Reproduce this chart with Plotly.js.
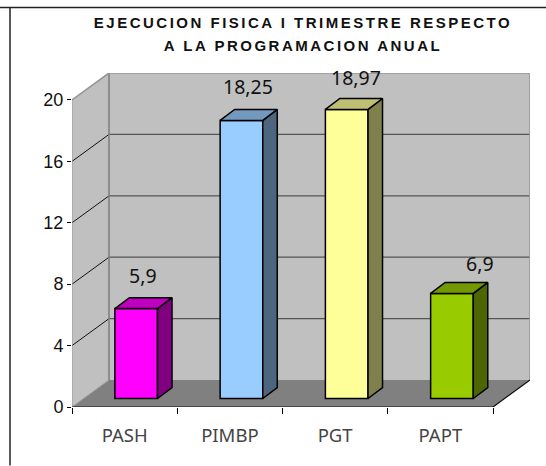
<!DOCTYPE html>
<html><head><meta charset="utf-8">
<script src="https://cdn.plot.ly/plotly-3.0.1.min.js"></script>
<style>
html,body{margin:0;padding:0;background:#fff}
.gtitle{letter-spacing:2.5px}
</style></head><body><div id="c" style="width:546px;height:466px"></div>
<script>
const categories=['PASH','PIMBP','PGT','PAPT'];
const values=[5.9,18.25,18.97,6.9];
const valueLabels=['5,9','18,25','18,97','6,9'];
const frontColors=['#FF00FF','#99CCFF','#FFFF99','#99CC00'];
const sideColors=['#800080','#4D6680','#80804D','#4D6600'];
const topColors=['#BF00BF','#7399BF','#BFBF73','#739900'];
const yTicks=[0,4,8,12,16,20];
const labelShiftX=[7,7,9,28];
const labelShiftY=[33,34,32,30];

const wallDX=37/105.25, wallDY=27/15.375;
const barDX=14.5/105.25, barDY=11/15.26, barW=0.405, barCenterShift=0.61;
const nCat=categories.length, yMax=20;
const xEnd=nCat+wallDX, yEnd=yMax+wallDY;
const traces=[];
function poly(x,y,fill,line,width,ya){
  traces.push({type:'scatter',mode:width?'lines':'none',x:x.concat(x[0]),y:y.concat(y[0]),fill:'toself',fillcolor:fill,
    line:{color:line||fill,width:width||0},yaxis:ya||'y',hoverinfo:'skip',showlegend:false,cliponaxis:false});
}
function seg(x,y,color,width){
  traces.push({type:'scatter',mode:'lines',x,y,line:{color,width},hoverinfo:'skip',showlegend:false,cliponaxis:false});
}
// walls and floor
poly([wallDX,xEnd,xEnd,wallDX],[wallDY,wallDY,yEnd,yEnd],'#C0C0C0');
poly([0,wallDX,wallDX,0],[0,wallDY,yEnd,yMax],'#C0C0C0');
poly([0,nCat,xEnd,wallDX],[0,0,wallDY,wallDY],'#808080');
// gridlines
yTicks.slice(1,-1).forEach(t=>{
  seg([0,wallDX],[t,t+wallDY],'#111',1);
  seg([wallDX,xEnd],[t+wallDY,t+wallDY],'#555',1.3);
});
// wall edges
seg([wallDX,wallDX],[wallDY,yEnd],'#808080',1.6);
seg([0,wallDX,xEnd,xEnd],[yMax,yEnd,yEnd,wallDY],'#969696',1.6);
seg([0,0],[0,yMax],'#999',1);
seg([0,wallDX],[0,wallDY],'#999',1);
seg([0,nCat,xEnd],[0,0,wallDY],'#111',1.2);
// bars
const centers=categories.map((c,i)=>i+barCenterShift);
traces.push({type:'bar',x:centers,y:values,width:categories.map(()=>barW),yaxis:'y2',
  marker:{color:frontColors,line:{color:'#000',width:1.5}},hoverinfo:'skip',showlegend:false});
values.forEach((v,i)=>{
  const l=centers[i]-barW/2,r=centers[i]+barW/2;
  poly([r,r+barDX,r+barDX,r],[0,barDY,v+barDY,v],sideColors[i],'#000',1.5,'y2');
  poly([l,r,r+barDX,l+barDX],[v,v,v+barDY,v+barDY],topColors[i],'#000',1.5,'y2');
});
const annotations=values.map((v,i)=>({x:centers[i],y:v,xref:'x',yref:'y2',text:valueLabels[i],showarrow:false,
  xshift:labelShiftX[i],yshift:labelShiftY[i],font:{family:'Noto Sans',size:19.5,color:'#111'}}));
const W=546,H=466,L=72,R=530,T=73,B=407.5;
const px=v=>(v-L)/(R-L), py=v=>(B-v)/(B-T);
const shapes=[
 {type:'line',xref:'paper',yref:'paper',x0:px(0),x1:px(546),y0:py(7.5),y1:py(7.5),line:{color:'#222',width:1.5}},
 {type:'line',xref:'paper',yref:'paper',x0:px(10),x1:px(10),y0:py(7.5),y1:py(466),line:{color:'#222',width:1.5}}
];
Plotly.newPlot('c',traces,{
  width:W,height:H,margin:{l:L,r:W-R,t:T,b:H-B,pad:0},paper_bgcolor:'#fff',plot_bgcolor:'rgba(0,0,0,0)',
  showlegend:false,barmode:'overlay',
  title:{text:'<span style="font-size:15px">EJECUCION FISICA I TRIMESTRE RESPECTO</span><br><span style="font-size:15px">A LA PROGRAMACION ANUAL</span>',
    x:303/W,xanchor:'center',y:1-28/H,yanchor:'bottom',font:{family:'Liberation Sans',size:17.7,color:'#111',weight:700}},
  xaxis:{range:[0,xEnd],tickmode:'array',tickvals:categories.map((c,i)=>i+0.5),ticktext:categories,ticks:'',showgrid:false,zeroline:false,showline:false,
    ticklabelstandoff:15,tickfont:{family:'Noto Sans',size:18.5,color:'#444'},
    minor:{tickmode:'array',tickvals:[0,1,2,3,4],ticks:'outside',ticklen:6,tickwidth:1,tickcolor:'#000',showgrid:false}},
  yaxis:{range:[0,yEnd],tickmode:'array',tickvals:yTicks,ticktext:yTicks.map(String),ticks:'outside',ticklen:4,tickwidth:1,tickcolor:'#000',
    showgrid:false,zeroline:false,showline:false,tickfont:{family:'Liberation Sans',size:18,color:'#111'}},
  yaxis2:{overlaying:'y',visible:false,range:[-8.5/15.26,326/15.26],showgrid:false,zeroline:false},
  annotations,shapes
},{displayModeBar:false,staticPlot:true});
</script></body></html>
